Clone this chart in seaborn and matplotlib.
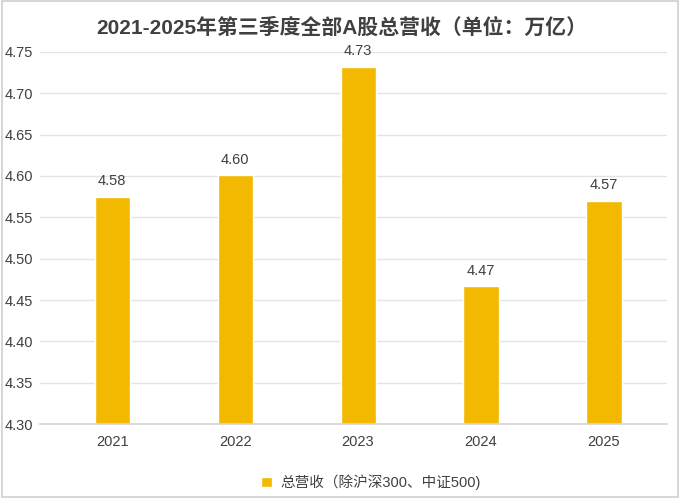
import pandas as pd
import matplotlib.pyplot as plt
import seaborn as sns
from matplotlib.patches import Rectangle

years = ["2021", "2022", "2023", "2024", "2025"]
revenue = [4.575, 4.601, 4.732, 4.467, 4.570]
labels = ["4.58", "4.60", "4.73", "4.47", "4.57"]
series_name = "总营收（除沪深300、中证500)"
yticks = [4.30, 4.35, 4.40, 4.45, 4.50, 4.55, 4.60, 4.65, 4.70, 4.75]

sns.set_theme(style="white")
plt.rcParams["font.family"] = ["Liberation Sans", "Noto Sans CJK SC", "DejaVu Sans"]
text_color = "#404040"
bar_color = "#F2B900"

df = pd.DataFrame({"year": years, "revenue": revenue})

fig = plt.figure(figsize=(6.81, 4.99), dpi=100)
ax = fig.add_axes([0.059, 0.150, 0.920, 0.746])

sns.barplot(data=df, x="year", y="revenue", color=bar_color, width=0.285,
            saturation=1, ax=ax, label=series_name)

ax.set_ylim(4.30, 4.75)
ax.set_xlim(-0.585, 4.51)
ax.set_yticks(yticks)
ax.set_yticklabels([f"{v:.2f}" for v in yticks], color=text_color, fontsize=10.5)
ax.tick_params(axis="x", colors=text_color, labelsize=10.5, length=0, pad=8)
ax.tick_params(axis="y", length=0, pad=5)
ax.yaxis.grid(True, color="#E4E4E4", linewidth=1)
ax.set_axisbelow(True)
for s in ["top", "right", "left"]:
    ax.spines[s].set_visible(False)
ax.spines["bottom"].set_color("#D6D6D6")
ax.set_xlabel("")
ax.set_ylabel("")

for i, (v, lab) in enumerate(zip(revenue, labels)):
    ax.annotate(lab, (i, v), xytext=(0, 6), textcoords="offset points",
                ha="center", va="bottom", fontsize=10.5, color=text_color,
                annotation_clip=False)

ax.set_title("2021-2025年第三季度全部A股总营收（单位：万亿）", fontsize=15,
             fontweight="bold", color=text_color, pad=13, x=0.482)

leg = ax.legend(loc="upper center", bbox_to_anchor=(0.528, -0.1), frameon=False,
                fontsize=10.5, handlelength=0.7, handleheight=0.7, handletextpad=0.6)
for t in leg.get_texts():
    t.set_color(text_color)

fig.patches.append(Rectangle((0.003, 0.004), 0.993, 0.994, transform=fig.transFigure,
                             fill=False, edgecolor="#D0D0D0", linewidth=1.2))

fig.savefig("out.png", dpi=100)
